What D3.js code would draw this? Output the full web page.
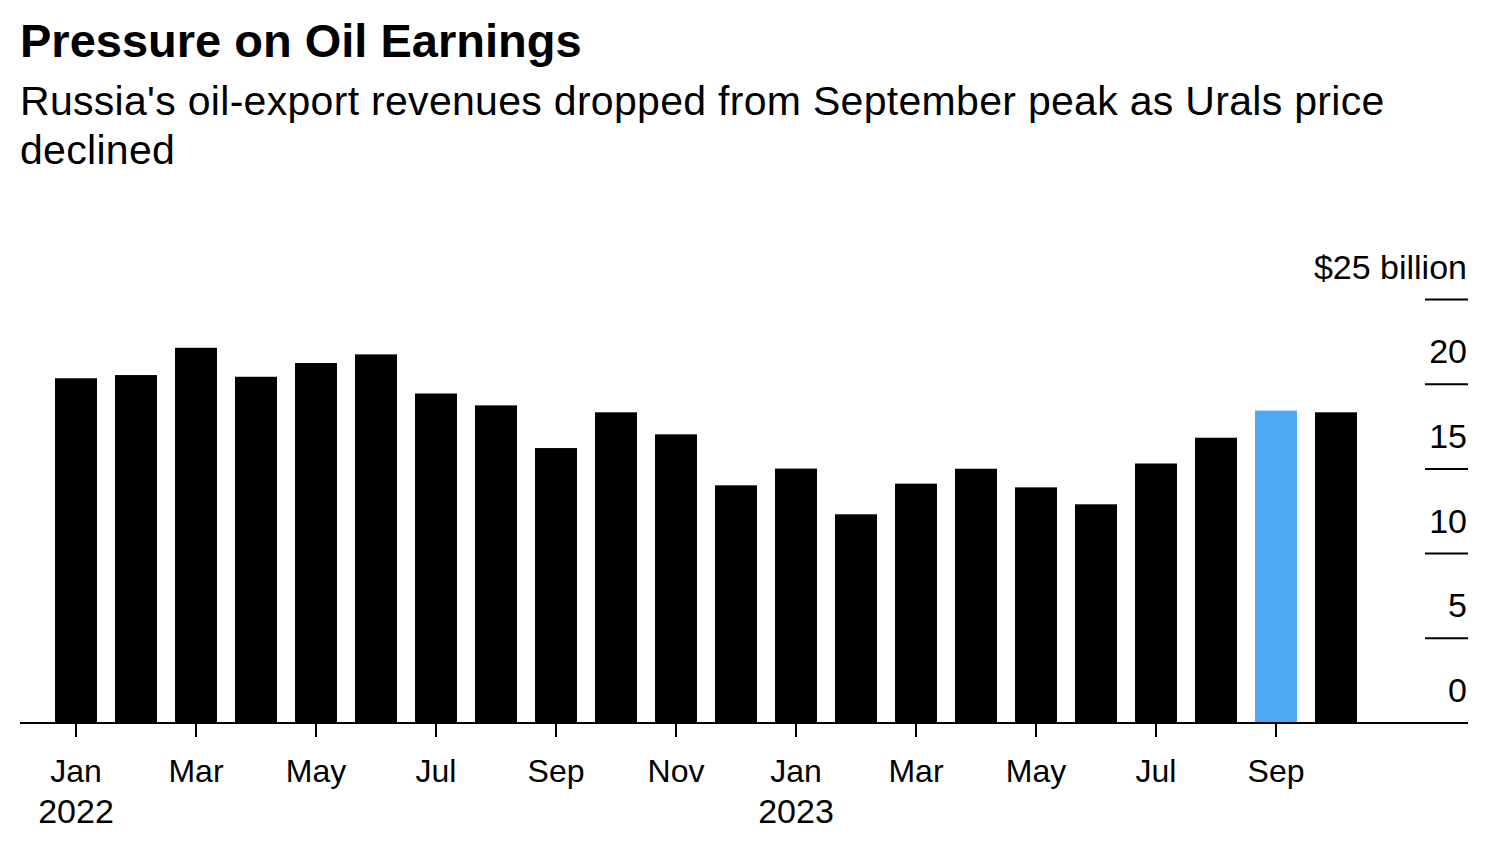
<!DOCTYPE html>
<html>
<head>
<meta charset="utf-8">
<script src="https://cdn.jsdelivr.net/npm/d3@7"></script>
<style>
  html, body { margin: 0; padding: 0; background: #fff; }
  svg { display: block; font-family: "Liberation Sans", Arial, Helvetica, sans-serif; }
</style>
</head>
<body>
<svg id="chart" width="1500" height="850"></svg>
<script>
// ---- data ----
const months = ["2022-01","2022-02","2022-03","2022-04","2022-05","2022-06","2022-07","2022-08","2022-09","2022-10","2022-11","2022-12",
                "2023-01","2023-02","2023-03","2023-04","2023-05","2023-06","2023-07","2023-08","2023-09","2023-10"];
const revenues = [20.35,20.54,22.15,20.44,21.25,21.76,19.45,18.75,16.23,18.34,17.04,14.03,
                  15.02,12.32,14.13,15.01,13.91,12.91,15.32,16.84,18.44,18.34];
const highlightMonth = "2023-09";
const xTickMonths = ["2022-01","2022-03","2022-05","2022-07","2022-09","2022-11","2023-01","2023-03","2023-05","2023-07","2023-09"];
const xTickLabels = ["Jan","Mar","May","Jul","Sep","Nov","Jan","Mar","May","Jul","Sep"];
const yearLabels = [{month:"2022-01", label:"2022"},{month:"2023-01", label:"2023"}];
const yTicks = [0,5,10,15,20,25];
const yTickLabels = ["0","5","10","15","20","$25 billion"];
const title = "Pressure on Oil Earnings";
const subtitleLines = ["Russia's oil-export revenues dropped from September peak as Urals price","declined"];

// ---- layout ----
const svg = d3.select("#chart");
const baseY = 723, topY = 299.5;
const x = d3.scaleBand().domain(months).range([46, 1366]).paddingInner(0.3).paddingOuter(0.15);
const y = d3.scaleLinear().domain([0, 25]).range([baseY, topY]);

// title & subtitle
svg.append("text").attr("x", 20).attr("y", 57)
  .attr("font-size", 47).attr("font-weight", "bold").attr("fill", "#000").text(title);
svg.append("g").selectAll("text").data(subtitleLines).join("text")
  .attr("x", 20).attr("y", (d, i) => 115 + i * 49)
  .attr("font-size", 41).attr("letter-spacing", 0.3).attr("fill", "#000").text(d => d);

// bars
svg.append("g").selectAll("rect").data(months).join("rect")
  .attr("x", d => x(d))
  .attr("width", x.bandwidth())
  .attr("y", (d, i) => y(revenues[i]))
  .attr("height", (d, i) => y(0) - y(revenues[i]))
  .attr("fill", d => d === highlightMonth ? "#4DA9F4" : "#000");

// right y "axis": short tick lines with labels above
const yg = svg.append("g");
yg.selectAll("line").data(yTicks.filter(v => v > 0)).join("line")
  .attr("x1", 1425).attr("x2", 1468)
  .attr("y1", d => y(d)).attr("y2", d => y(d))
  .attr("stroke", "#000").attr("stroke-width", 2);
yg.selectAll("text").data(yTicks).join("text")
  .attr("x", 1467).attr("y", d => y(d) - 21)
  .attr("text-anchor", "end").attr("font-size", 34).attr("fill", "#000")
  .text((d, i) => yTickLabels[i]);

// baseline
svg.append("line").attr("x1", 20).attr("x2", 1468).attr("y1", baseY).attr("y2", baseY)
  .attr("stroke", "#000").attr("stroke-width", 2);

// x axis
const xAxis = d3.axisBottom(x).tickValues(xTickMonths).tickSize(14).tickPadding(0)
  .tickFormat((d) => xTickLabels[xTickMonths.indexOf(d)]);
const xg = svg.append("g").attr("transform", `translate(0,${baseY})`).call(xAxis);
xg.select(".domain").remove();
xg.selectAll(".tick line").attr("stroke", "#000").attr("stroke-width", 2);
xg.selectAll(".tick text").attr("font-size", 32).attr("fill", "#000")
  .attr("font-family", "Liberation Sans, Arial, sans-serif")
  .attr("dy", null).attr("y", 59);

// year labels
svg.append("g").selectAll("text").data(yearLabels).join("text")
  .attr("x", d => x(d.month) + x.bandwidth() / 2).attr("y", 823)
  .attr("text-anchor", "middle").attr("font-size", 34).attr("fill", "#000")
  .text(d => d.label);
</script>
</body>
</html>
